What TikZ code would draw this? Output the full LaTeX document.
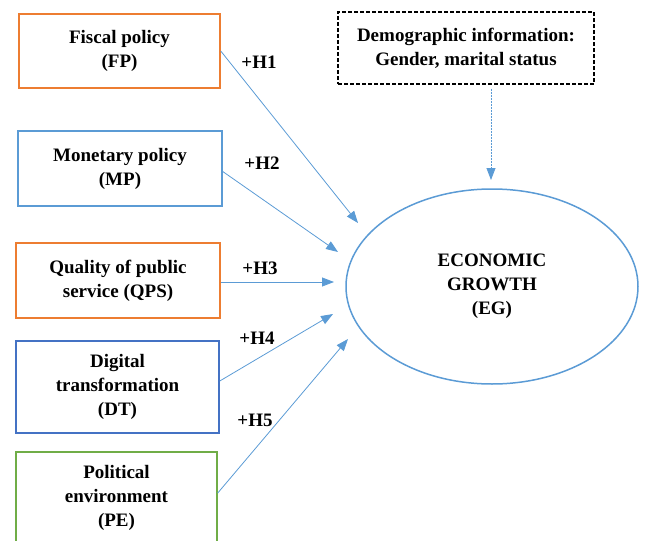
\documentclass[tikz,border=0pt]{standalone}
\usepackage{fontspec}
\setmainfont{Liberation Serif}
\usetikzlibrary{arrows.meta,shapes.geometric}
\definecolor{orangeb}{HTML}{ED7D31}
\definecolor{lblue}{HTML}{5B9BD5}
\definecolor{dblue}{HTML}{4472C4}
\definecolor{greenb}{HTML}{70AD47}
\begin{document}
\begin{tikzpicture}[x=1pt,y=-1pt,
  txt/.style={font=\bfseries\fontsize{19}{24}\selectfont, align=center},
  box/.style={txt, draw, line width=1.5pt, inner sep=0pt},
  link/.style={draw=lblue, line width=0.8pt, -{Triangle[length=12pt,width=9pt]}},
  hyp/.style={txt, inner sep=0pt}
]
\useasboundingbox (0,0) rectangle (646,541);
\node[box, draw=orangeb, minimum width=201pt, minimum height=74pt] (fp) at (119.5,51) {Fiscal policy\\(FP)};
\node[box, draw=lblue, minimum width=204pt, minimum height=75pt] (mp) at (120,168.5) {Monetary policy\\(MP)};
\node[box, draw=orangeb, minimum width=204pt, minimum height=75pt] (qps) at (118,280.5) {Quality of public\\service (QPS)};
\node[box, draw=dblue, minimum width=203pt, minimum height=92pt] (dt) at (117.5,387) {Digital\\transformation\\(DT)};
\node[box, draw=greenb, minimum width=201pt, minimum height=92pt] (pe) at (116.5,498) {Political\\environment\\(PE)};
\node[box, draw=black, line width=1.3pt, dash pattern=on 4pt off 2pt, minimum width=256pt, minimum height=72pt] (demo) at (466,48) {Demographic information:\\Gender, marital status};
\node[txt, draw=lblue, line width=1.5pt, ellipse, inner sep=0pt, minimum width=292pt, minimum height=195pt] (eg) at (492,286.5) {ECONOMIC\\GROWTH\\(EG)};

\coordinate (t1) at (358,223);
\coordinate (t2) at (338,252);
\coordinate (t3) at (334,282);
\coordinate (t4) at (333,314);
\coordinate (t5) at (348,339);
\coordinate (t0) at (491,180);

\draw[link] (fp.east) -- (t1);
\draw[link] (mp.east) ++(0,3) -- (t2);
\draw[link] (qps.east) ++(0,1.5) -- (t3);
\draw[link] (dt.east) ++(0,-6) -- (t4);
\draw[link] (pe.east) ++(0,-5) -- (t5);
\draw[link, dash pattern=on 2pt off 1pt, shorten <=4pt] (demo.south -| t0) -- (t0);

\node[hyp] (h1) at (259,62) {+H1};
\node[hyp] (h2) at (262,163) {+H2};
\node[hyp] (h3) at (260,268) {+H3};
\node[hyp] (h4) at (257,338) {+H4};
\node[hyp] (h5) at (255,420) {+H5};
\end{tikzpicture}
\end{document}
